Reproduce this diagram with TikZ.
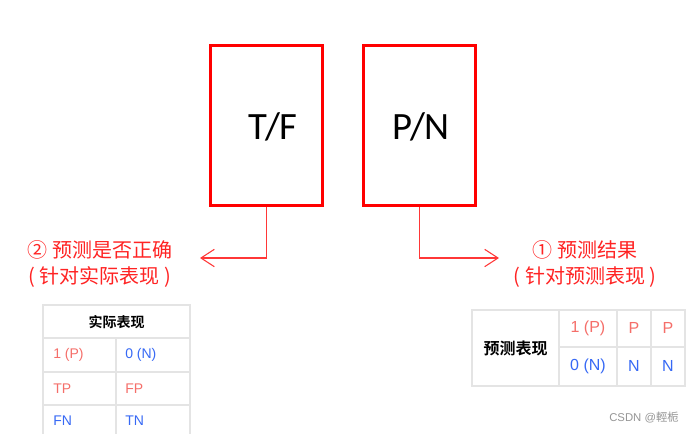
\documentclass[tikz,border=0pt]{standalone}
\usepackage{fontspec}
\setmainfont{Liberation Sans}
\newfontfamily\cjk{Noto Sans CJK SC}
\newfontfamily\cjkb{Noto Sans CJK SC Bold}
\newfontfamily\calf{Carlito}
\usetikzlibrary{arrows.meta}
\definecolor{boxred}{RGB}{255,0,0}
\definecolor{linered}{RGB}{255,55,55}
\definecolor{labred}{RGB}{255,35,35}
\definecolor{cellred}{RGB}{245,110,105}
\definecolor{cellblue}{RGB}{55,105,245}
\definecolor{gridc}{RGB}{228,228,228}
\definecolor{markc}{RGB}{150,150,150}
\tikzset{
  bigbox/.style={draw=boxred, line width=2.8pt, minimum width=84pt, minimum height=120pt, inner sep=0pt},
  bigtext/.style={font=\calf\fontsize{29pt}{32pt}\selectfont, inner sep=0pt},
  conn/.style={draw=linered, line width=0.8pt, -{Straight Barb[length=10pt,width=13pt,line width=0.8pt]}},
  lab/.style={text=labred, font=\cjk\fontsize{15pt}{19pt}\selectfont, align=center, inner sep=0pt},
  gridl/.style={draw=gridc, line width=1pt},
  cellL/.style={font=\fontsize{10.5pt}{12pt}\selectfont, anchor=west, inner sep=0pt},
  cellR/.style={font=\fontsize{12pt}{14pt}\selectfont, inner sep=0pt},
}
\begin{document}
\begin{tikzpicture}[x=0.75pt,y=-0.75pt]
\useasboundingbox[fill=white] (0,0) rectangle (693,433);
% boxes
\node[bigbox] (b1) at (266.5,125.5) {};
\node[bigbox] (b2) at (419.5,125.5) {};
\node[bigtext] (tf) at (273,127) {T/F};
\node[bigtext] (pn) at (421,127) {P/N};
% labels
\node[lab] (lab2) at (100,264) {② 预测是否正确\\( 针对实际表现 )};
\node[lab] (lab1) at (585,264) {① 预测结果\\( 针对预测表现 )};
% connectors
\coordinate (a2) at (200,258);
\coordinate (a1) at (499,258);
\draw[conn] (b1.south) |- (a2);
\draw[conn] (b2.south) |- (a1);
% left table
\draw[gridl] (43,305) rectangle (190,440);
\draw[gridl] (43,338) -- (190,338);
\draw[gridl] (43,372) -- (190,372);
\draw[gridl] (43,405) -- (190,405);
\draw[gridl] (116,338) -- (116,440);
\node[font=\cjkb\fontsize{10.5pt}{12pt}\selectfont, inner sep=0pt] (th) at (116.5,322) {实际表现};
\node[cellL, text=cellred] (l11) at (53,355) {1 (P)};
\node[cellL, text=cellblue] (l12) at (125,355) {0 (N)};
\node[cellL, text=cellred] (l21) at (53,389) {TP};
\node[cellL, text=cellred] (l22) at (125,389) {FP};
\node[cellL, text=cellblue] (l31) at (53,421) {FN};
\node[cellL, text=cellblue] (l32) at (125,421) {TN};
% right table
\draw[gridl] (472,310) rectangle (685,386);
\draw[gridl] (559,347) -- (685,347);
\draw[gridl] (559,310) -- (559,386);
\draw[gridl] (617,310) -- (617,386);
\draw[gridl] (651,310) -- (651,386);
\node[font=\cjkb\fontsize{12pt}{14pt}\selectfont, inner sep=0pt] (rh) at (515.5,348) {预测表现};
\node[cellR, text=cellred] (r11) at (588,328) {1 (P)};
\node[cellR, text=cellred] (r12) at (634,328) {P};
\node[cellR, text=cellred] (r13) at (668,328) {P};
\node[cellR, text=cellblue] (r21) at (588,366) {0 (N)};
\node[cellR, text=cellblue] (r22) at (634,366) {N};
\node[cellR, text=cellblue] (r23) at (668,366) {N};
% watermark
\node[text=markc, font=\fontsize{8.5pt}{10pt}\selectfont, inner sep=0pt] (wm) at (644,418) {CSDN @{\cjk 輕栀}};
\end{tikzpicture}
\end{document}
